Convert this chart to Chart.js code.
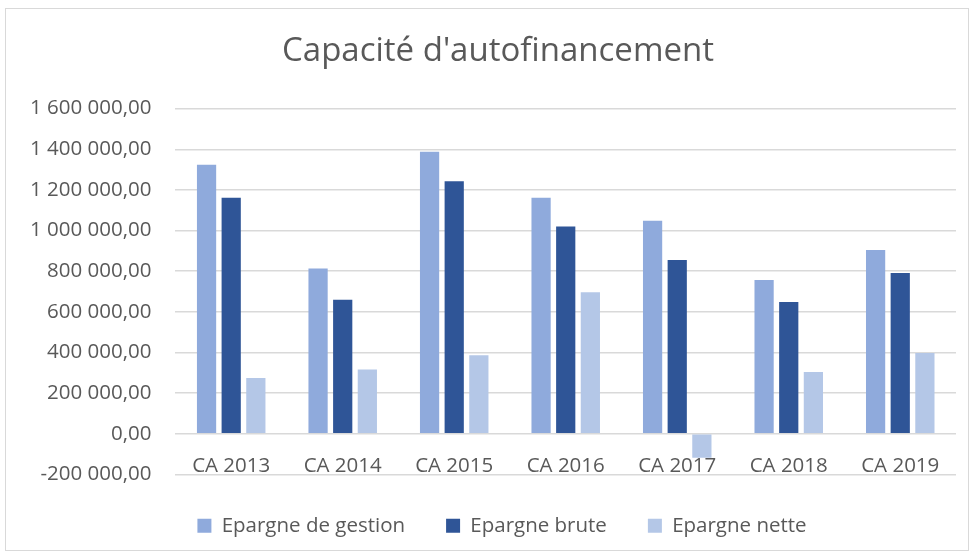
<!DOCTYPE html>
<html>
<head>
<meta charset="utf-8">
<script src="https://cdn.jsdelivr.net/npm/chart.js@4/dist/chart.umd.min.js"></script>
<style>
  body { margin: 0; background: #fff; }
  #cadre { position: absolute; left: 5px; top: 8px; width: 962px; height: 541px; border: 1px solid #d9d9d9; }
</style>
</head>
<body>
<div id="cadre"><canvas id="grafico_caf"></canvas></div>
<script>
// Données
const annees = ['CA 2013', 'CA 2014', 'CA 2015', 'CA 2016', 'CA 2017', 'CA 2018', 'CA 2019'];
const epargneGestion = [1324000, 814000, 1388000, 1161000, 1048000, 757000, 905000];
const epargneBrute = [1161000, 660000, 1242000, 1020000, 855000, 648000, 791000];
const epargneNette = [275000, 316000, 387000, 697000, -118000, 304000, 398000];
const ticksY = [-200000, 0, 200000, 400000, 600000, 800000, 1000000, 1200000, 1400000, 1600000];

const gris = '#595959';
const police = 'Open Sans';
const taille = 20.5;

// Format "1 600 000,00"
function formatEuro(v) {
    const neg = v < 0;
    const s = Math.abs(Math.round(v)).toString().replace(/\B(?=(\d{3})+(?!\d))/g, ' ');
    return (neg ? '-' : '') + s + ',00';
}

// Décale un peu le titre et la légende vers la droite (centrés comme dans Excel)
const decalage = {
    id: 'decalage',
    afterLayout(chart) {
        chart.titleBlock.left += 17;
        chart.titleBlock.right += 17;
        chart.legend.left += 21;
        chart.legend.right += 21;
    }
};

const ctx = document.getElementById('grafico_caf').getContext('2d');

new Chart(ctx, {
    type: 'bar',
    data: {
        labels: annees,
        datasets: [
            { label: 'Epargne de gestion', data: epargneGestion, backgroundColor: '#8faadc' },
            { label: 'Epargne brute', data: epargneBrute, backgroundColor: '#2f5597' },
            { label: 'Epargne nette', data: epargneNette, backgroundColor: '#b4c7e7' }
        ]
    },
    plugins: [decalage],
    options: {
        responsive: true,
        maintainAspectRatio: false,
        animation: false,
        categoryPercentage: 0.663,
        barPercentage: 0.78,
        layout: { padding: { left: 0, right: 12, top: 0, bottom: 4 } },
        plugins: {
            title: {
                display: true,
                text: "Capacité d'autofinancement",
                color: gris,
                font: { family: police, size: 33, weight: 'normal' },
                padding: { top: 23, bottom: 37 }
            },
            legend: {
                display: true,
                position: 'bottom',
                labels: {
                    color: gris,
                    font: { family: police, size: taille },
                    boxWidth: 14,
                    boxHeight: 14,
                    padding: 41
                }
            },
            tooltip: { enabled: false }
        },
        scales: {
            x: {
                position: { y: 0 },
                grid: { display: false },
                border: { display: false },
                ticks: { color: gris, font: { family: police, size: taille }, padding: 12 }
            },
            y: {
                min: -200000,
                max: 1600000,
                afterBuildTicks: axis => { axis.ticks = ticksY.map(v => ({ value: v })); },
                grid: { color: '#d9d9d9', lineWidth: 1.5, drawTicks: false },
                border: { display: false },
                ticks: {
                    color: gris,
                    font: { family: police, size: taille },
                    padding: 24,
                    callback: v => formatEuro(v)
                }
            }
        }
    }
});
</script>
</body>
</html>
